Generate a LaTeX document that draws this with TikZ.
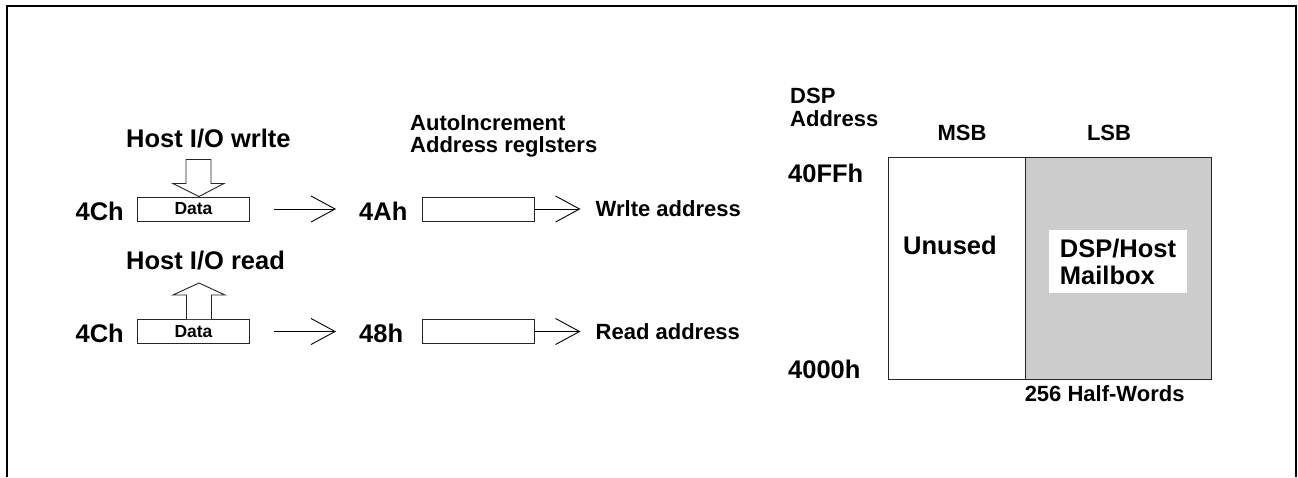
\documentclass[tikz,border=0pt]{standalone}
\usepackage{fontspec}
\setmainfont{Liberation Sans}
\usetikzlibrary{positioning,arrows.meta}

\tikzset{
  bigtxt/.style={font=\bfseries\fontsize{25.5}{27}\selectfont, inner sep=0pt},
  midtxt/.style={font=\bfseries\fontsize{22}{22.5}\selectfont, inner sep=0pt},
  regbox/.style={draw=black!85, line width=1pt, minimum width=112pt, minimum height=24pt,
    inner sep=0pt, font=\bfseries\fontsize{17.5}{18}\selectfont},
  memcell/.style={draw=black!85, line width=0.9pt, minimum height=222pt, inner sep=0pt},
  flowarr/.style={-{Straight Barb[length=24pt,width=26pt,line width=0.9pt]}, line width=0.9pt},
  blockarr/.style={draw=black!85, line width=0.9pt, fill=white},
}

\begin{document}
\begin{tikzpicture}[x=1pt,y=-1pt]
    \useasboundingbox (0,0) rectangle (1298,477);
    % frame, open at the bottom
    \draw[line width=2pt] (7,477) -- (7,6) -- (1296,6) -- (1296,477);

    % host side: data ports and address registers
    \node[regbox] (dw) at (193.5,209) {Data};
    \node[regbox] (dr) at (193.5,331.5) {Data};
    \node[regbox] (aw) at (478,209) {};
    \node[regbox] (ar) at (478,331.5) {};

    \node[bigtxt,anchor=base east] (cw) at (124,220) {4Ch};
    \node[bigtxt,anchor=base east] (cr) at (124,342.5) {4Ch};
    \node[bigtxt,anchor=base west] (ah) at (359,220) {4Ah};
    \node[bigtxt,anchor=base west] (eh) at (359,342.5) {48h};
    \node[bigtxt,anchor=base west] (hw) at (126,147) {Host I/O wrlte};
    \node[bigtxt,anchor=base west] (hr) at (126,269.5) {Host I/O read};
    \node[midtxt,anchor=north west,align=left] (ai) at (410,115) {AutoIncrement\\Address reglsters};
    \node[midtxt,right=61pt of aw] (wa) {Wrlte address};
    \node[midtxt,right=61pt of ar] (ra) {Read address};

    % hollow block arrows
    \coordinate (wtip) at ([xshift=5.5pt]dw.north);
    \draw[blockarr] (wtip) -- ++(-26,-13) -- ++(13,0) -- ++(0,-24) -- ++(25,0)
        -- ++(0,24) -- ++(13,0) -- cycle;
    \coordinate (rbase) at ([xshift=5.5pt]dr.north);
    \draw[blockarr] ([xshift=-12.5pt]rbase) -- ++(0,-24) -- ++(-13.5,0) -- ++(26,-12)
        -- ++(26,12) -- ++(-13.5,0) -- ++(0,24);

    % flow arrows
    \draw[flowarr,shorten <=24pt,shorten >=23pt] (dw.east) -- (dw.east -| ah.west);
    \draw[flowarr,shorten <=24pt,shorten >=23pt] (dr.east) -- (dr.east -| eh.west);
    \draw[flowarr,shorten >=15pt] (aw.east) -- (aw.east -| wa.west);
    \draw[flowarr,shorten >=15pt] (ar.east) -- (ar.east -| ra.west);

    % DSP memory map
    \node[memcell,minimum width=137pt] (un) at (956.5,268) {};
    \node[memcell,minimum width=186pt,fill=black!20] (mb) at (1118,268) {};
    \node[bigtxt,anchor=base west] (unt) at (903,254) {Unused};
    \node[bigtxt,fill=white,minimum width=138pt,minimum height=63pt,align=left] (mbt)
        at (1118,261.5) {DSP/Host\\Mailbox};

    \node[midtxt,anchor=north west,align=left] (da) at (790,88) {DSP\\Address};
    \node[midtxt,anchor=base] (msb) at (962,140) {MSB};
    \node[midtxt,anchor=base] (lsb) at (1109,140) {LSB};
    \node[bigtxt,anchor=base west] (top) at (788,182) {40FFh};
    \node[bigtxt,anchor=base west] (bot) at (788,378) {4000h};
    \node[midtxt,anchor=north west] (hwd) at ([yshift=-6pt]mb.south west) {256 Half-Words};
\end{tikzpicture}
\end{document}
